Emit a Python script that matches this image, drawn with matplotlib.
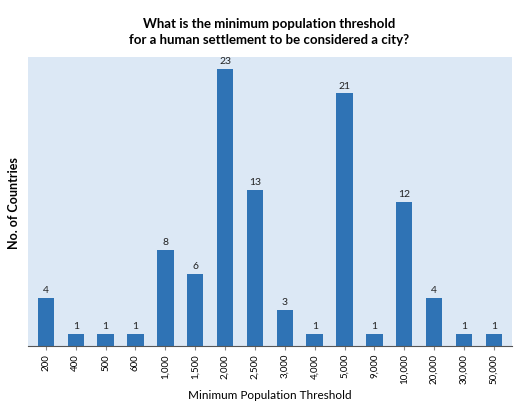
import matplotlib
matplotlib.use("Agg")
import matplotlib.pyplot as plt

categories = ["200", "400", "500", "600", "1,000", "1,500", "2,000", "2,500", "3,000",
              "4,000", "5,000", "9,000", "10,000", "20,000", "30,000", "50,000"]
counts = [4, 1, 1, 1, 8, 6, 23, 13, 3, 1, 21, 1, 12, 4, 1, 1]

plt.rcParams["font.family"] = ["Lato", "DejaVu Sans"]
fig = plt.figure(figsize=(5.18, 4.06), dpi=100)
ax = fig.add_axes([0.054, 0.145, 0.934, 0.712])
ax.set_facecolor("#dce8f5")
x = range(len(categories))
ax.bar(x, counts, width=0.55, color="#2f73b5")
for xi, v in zip(x, counts):
    ax.text(xi, v + 0.3, str(v), ha="center", va="bottom", fontsize=7.5, color="#222222")
ax.set_xlim(-0.6, len(categories) - 0.4)
ax.set_ylim(0, 24)
ax.set_yticks([])
ax.set_xticks(list(x))
ax.set_xticklabels(categories, rotation=90, fontsize=7)
ax.tick_params(axis="x", length=3, pad=2, color="#888888")
for s in ("top", "right", "left"):
    ax.spines[s].set_visible(False)
ax.spines["bottom"].set_color("#555555")
ax.set_xlabel("Minimum Population Threshold", fontsize=8.5, labelpad=4)
ax.set_ylabel("No. of Countries", fontsize=9, fontweight="bold", labelpad=6)
fig.text(0.52, 0.955, "What is the minimum population threshold\nfor a human settlement to be considered a city?",
         ha="center", va="top", fontsize=9.5, fontweight="bold", linespacing=1.4)
fig.savefig("out.png", dpi=100)
